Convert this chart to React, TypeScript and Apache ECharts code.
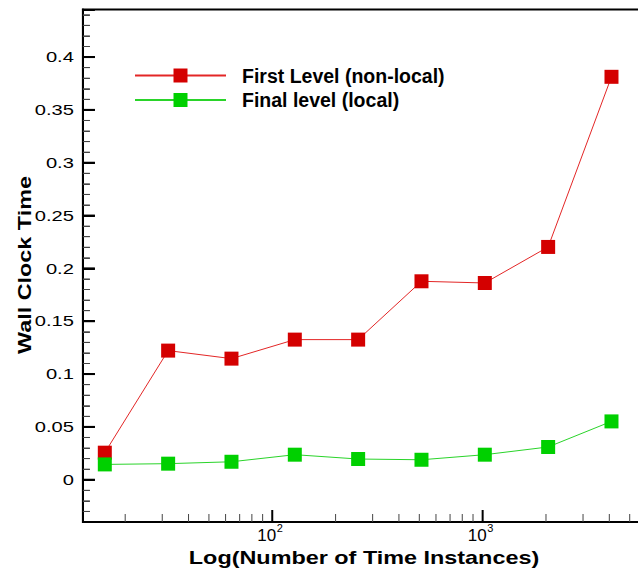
import React, { useEffect, useRef } from "react";
import * as echarts from "echarts";

// Number of time instances (x, log scale) and wall clock time per level
const instances = [16, 32, 64, 128, 256, 512, 1024, 2048, 4096];
const firstLevel = [0.0256, 0.1222, 0.1146, 0.1326, 0.1326, 0.1878, 0.1862, 0.2203, 0.3813];
const finalLevel = [0.0145, 0.0152, 0.017, 0.0237, 0.0196, 0.0189, 0.0237, 0.031, 0.0552];
const seriesNames = ["First Level (non-local)", "Final level (local)"];

// Tick values
const xMajorTicks = [100, 1000];
const xMinorTicks = [20, 30, 40, 50, 60, 70, 80, 90, 200, 300, 400, 500, 600, 700, 800, 900, 2000, 3000, 4000, 5000, 6000, 7000];
const yLabelValues = [0, 0.05, 0.1, 0.15, 0.2, 0.25, 0.3, 0.35, 0.4];
const yMinorTicks = [
  -0.03, -0.02, -0.01, 0.01, 0.02, 0.03, 0.04, 0.06, 0.07, 0.08, 0.09, 0.11, 0.12, 0.13, 0.14,
  0.16, 0.17, 0.18, 0.19, 0.21, 0.22, 0.23, 0.24, 0.26, 0.27, 0.28, 0.29, 0.31, 0.32, 0.33, 0.34,
  0.36, 0.37, 0.38, 0.39, 0.41, 0.42, 0.43, 0.44,
];

const X_MIN = Math.pow(10, 1.1);
const X_MAX = Math.pow(10, 3.9);
const Y_MIN = -0.04;
const Y_MAX = 0.445;
// any x inside the range; y-axis marks take their x from the grid's left edge
const X_REF = 100;

const FONT = '"Liberation Sans", Arial, Helvetica, sans-serif';
const RED = "#d40000";
const RED_LINE = "#e32626";
const GREEN = "#00d000";
const GREEN_LINE = "#2ad42a";
const STRETCH = 1.3;

export default function App() {
  const ref = useRef<HTMLDivElement>(null);

  useEffect(() => {
    if (!ref.current) return;
    const chart = echarts.init(ref.current, null, { renderer: "svg" });

    const xTickData = [
      ...xMajorTicks.map((v) => [v, Y_MIN, 1]),
      ...xMinorTicks.map((v) => [v, Y_MIN, 0]),
    ];
    const yTickData = [
      ...yLabelValues.map((v) => [X_REF, v, 1]),
      ...yMinorTicks.map((v) => [X_REF, v, 0]),
    ];

    chart.setOption({
      animation: false,
      backgroundColor: "#ffffff",
      grid: {
        show: true,
        left: 82.9,
        top: 9.5,
        width: 589.1,
        height: 512.5,
        outerBoundsMode: "none",
        containLabel: false,
        borderColor: "#000",
        borderWidth: 2,
        backgroundColor: "transparent",
      },
      xAxis: {
        type: "log",
        logBase: 10,
        min: X_MIN,
        max: X_MAX,
        axisLine: { show: false },
        axisTick: { show: false },
        axisLabel: { show: false },
        splitLine: { show: false },
      },
      yAxis: {
        type: "value",
        min: Y_MIN,
        max: Y_MAX,
        splitNumber: 10,
        axisLine: { show: true, lineStyle: { color: "#000", width: 2 } },
        axisTick: { show: true, inside: true, length: 12, lineStyle: { color: "#000", width: 2 } },
        minorTick: { show: true, splitNumber: 5, length: 7, lineStyle: { color: "#444", width: 1 } },
        axisLabel: { show: false },
        splitLine: { show: false },
      },
      legend: {
        orient: "vertical",
        left: 134,
        top: 65.5,
        padding: 0,
        itemWidth: 91,
        itemHeight: 17.5,
        itemGap: 4.5,
        selectedMode: false,
        data: seriesNames,
        textStyle: {
          fontFamily: FONT,
          fontSize: 19.5,
          fontWeight: "bold",
          color: "#000",
          padding: [0, 0, 0, 11],
        },
      },
      graphic: [
        {
          type: "text",
          x: 364,
          y: 558,
          scaleX: STRETCH,
          style: {
            text: "Log(Number of Time Instances)",
            fontFamily: FONT,
            fontSize: 18,
            fontWeight: "bold",
            fill: "#000",
            align: "center",
            verticalAlign: "middle",
            textAlign: "center",
            textVerticalAlign: "middle",
          },
        },
        {
          type: "text",
          x: 25,
          y: 265,
          rotation: Math.PI / 2,
          scaleX: STRETCH,
          style: {
            text: "Wall Clock Time",
            fontFamily: FONT,
            fontSize: 18,
            fontWeight: "bold",
            fill: "#000",
            align: "center",
            verticalAlign: "middle",
            textAlign: "center",
            textVerticalAlign: "middle",
          },
        },
      ],
      series: [
        {
          name: seriesNames[0],
          type: "line",
          data: instances.map((x, i) => [x, firstLevel[i]]),
          symbol: "rect",
          symbolSize: 14,
          itemStyle: { color: RED },
          lineStyle: { color: RED_LINE, width: 1 },
          z: 3,
        },
        {
          name: seriesNames[1],
          type: "line",
          data: instances.map((x, i) => [x, finalLevel[i]]),
          symbol: "rect",
          symbolSize: 14,
          itemStyle: { color: GREEN },
          lineStyle: { color: GREEN_LINE, width: 1 },
          z: 4,
        },
        {
          // x-axis tick marks, drawn inward from the bottom frame
          type: "custom",
          silent: true,
          clip: false,
          z: 6,
          data: xTickData,
          encode: { x: 0, y: 1 },
          renderItem: (params: any, api: any) => {
            const cs = params.coordSys;
            const p = api.coord([api.value(0), api.value(1)]);
            const major = api.value(2) === 1;
            const len = major ? 12 : 8;
            const w = major ? 2 : 1;
            return {
              type: "rect",
              shape: { x: p[0] - w / 2, y: cs.y + cs.height - len, width: w, height: len },
              style: { fill: major ? "#000" : "#444" },
            };
          },
        },
        {
          // y-axis tick marks, drawn inward from the left frame
          type: "custom",
          silent: true,
          clip: false,
          z: 7,
          data: yTickData,
          encode: { x: 0, y: 1 },
          renderItem: (params: any, api: any) => {
            const cs = params.coordSys;
            const p = api.coord([api.value(0), api.value(1)]);
            const major = api.value(2) === 1;
            const len = major ? 12 : 7;
            const w = major ? 2 : 1;
            return {
              type: "rect",
              shape: { x: cs.x, y: p[1] - w / 2, width: len, height: w },
              style: { fill: major ? "#000" : "#444" },
            };
          },
        },
        {
          // x-axis labels: powers of ten, base and raised exponent
          type: "custom",
          silent: true,
          clip: false,
          z: 6,
          data: xMajorTicks.map((v) => [v, Y_MIN]),
          encode: { x: 0, y: 1 },
          renderItem: (params: any, api: any) => {
            const v = api.value(0);
            const p = api.coord([v, api.value(1)]);
            const exp = Math.round(Math.log10(v));
            return {
              type: "group",
              children: [
                {
                  type: "text",
                  x: p[0] + 4,
                  y: p[1] + 5,
                  style: {
                    text: "10",
                    fontFamily: FONT,
                    fontSize: 17,
                    fill: "#000",
                    align: "right",
                    verticalAlign: "top",
                    textAlign: "right",
                    textVerticalAlign: "top",
                  },
                },
                {
                  type: "text",
                  x: p[0] + 4.5,
                  y: p[1] + 0.5,
                  style: {
                    text: String(exp),
                    fontFamily: FONT,
                    fontSize: 11,
                    fill: "#000",
                    align: "left",
                    verticalAlign: "top",
                    textAlign: "left",
                    textVerticalAlign: "top",
                  },
                },
              ],
            };
          },
        },
        {
          // y-axis labels
          type: "custom",
          silent: true,
          clip: false,
          z: 6,
          data: yLabelValues.map((v) => [X_REF, v]),
          encode: { x: 0, y: 1 },
          renderItem: (params: any, api: any) => {
            const cs = params.coordSys;
            const v = api.value(1);
            const p = api.coord([api.value(0), v]);
            return {
              type: "text",
              x: cs.x - 9,
              y: p[1],
              scaleX: STRETCH,
              style: {
                text: String(v),
                fontFamily: FONT,
                fontSize: 15.5,
                fill: "#000",
                align: "right",
                verticalAlign: "middle",
                textAlign: "right",
                textVerticalAlign: "middle",
              },
            };
          },
        },
      ],
    });

    return () => chart.dispose();
  }, []);

  return (
    <div
      ref={ref}
      style={{ position: "fixed", left: 0, top: 0, width: 638, height: 575, background: "#fff" }}
    />
  );
}
